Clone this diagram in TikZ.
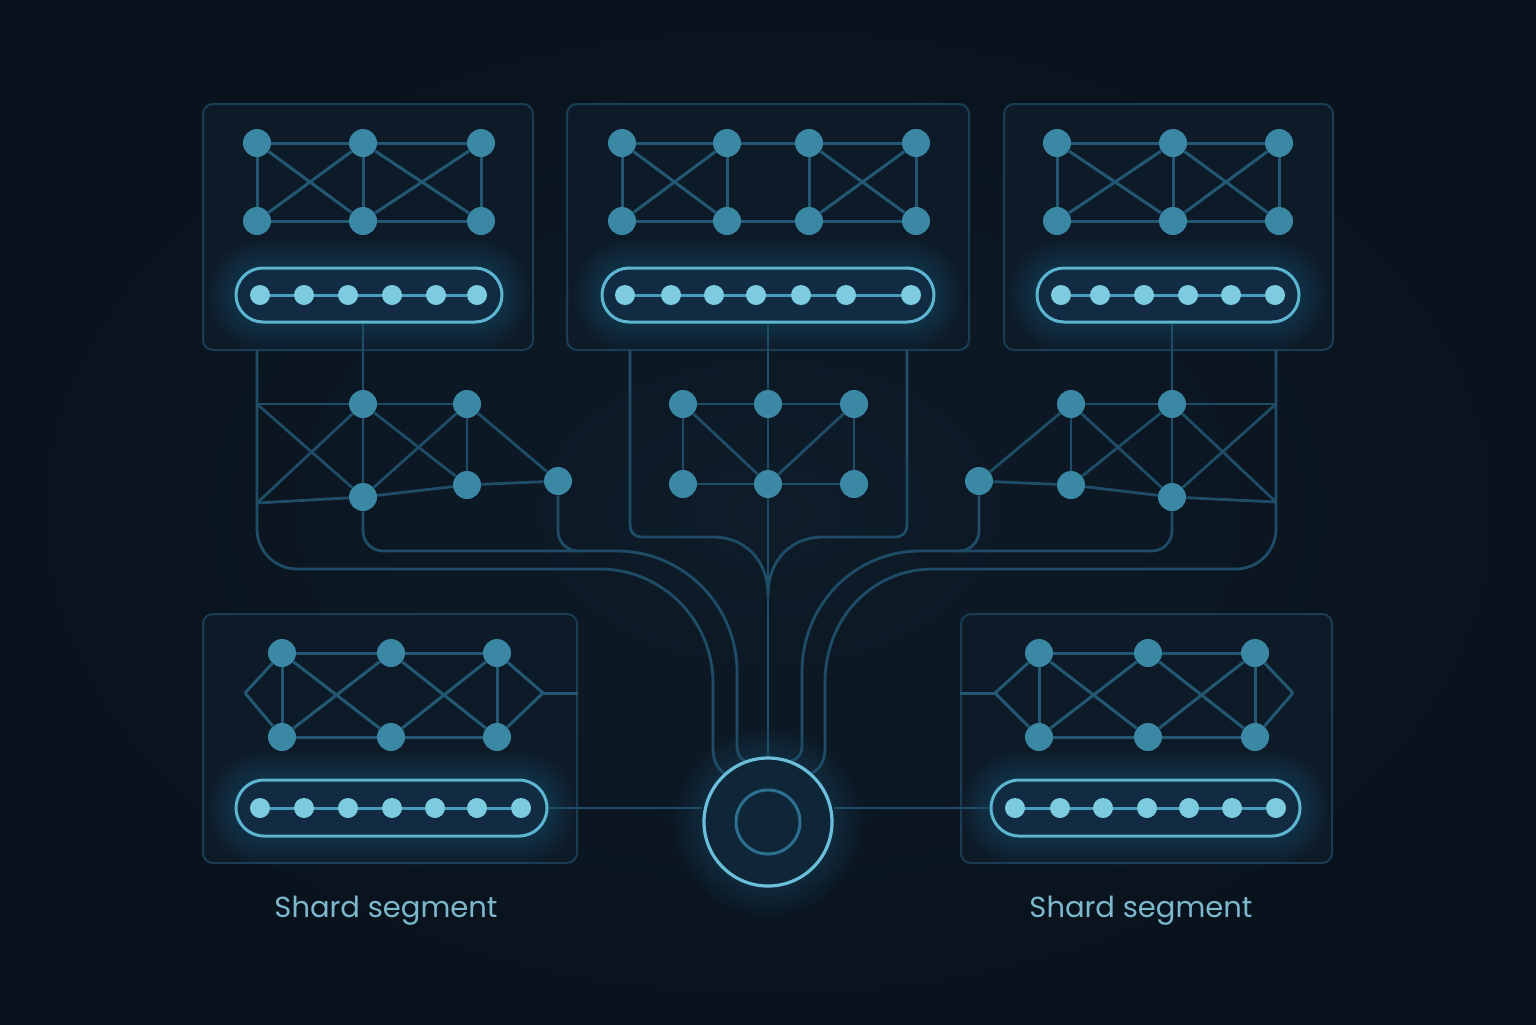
\documentclass[tikz,border=0pt]{standalone}
\usepackage{fontspec}
\setmainfont{Poppins}
\pgfdeclarelayer{back}\pgfdeclarelayer{panels}\pgfdeclarelayer{glow}\pgfdeclarelayer{edges}
\pgfsetlayers{back,panels,glow,edges,main}
\definecolor{bgin}{HTML}{0E1C29}
\definecolor{bgout}{HTML}{09131D}
\definecolor{panelfill}{HTML}{0D1B29}
\definecolor{panelline}{HTML}{1B3D54}
\definecolor{edgecol}{HTML}{235873}
\definecolor{routecol}{HTML}{1F4D68}
\definecolor{nodecol}{HTML}{3B88A5}
\definecolor{pillnode}{HTML}{7DCBDE}
\definecolor{pillline}{HTML}{4A9DBA}
\definecolor{pillborder}{HTML}{5DB6D1}
\definecolor{pillfill}{HTML}{112C42}
\definecolor{glowcol}{HTML}{2B86B0}
\definecolor{ring}{HTML}{6BBFDB}
\definecolor{ringfill}{HTML}{0F2538}
\definecolor{innerring}{HTML}{2D6F8F}
\definecolor{textcol}{HTML}{7DB8CC}
\tikzset{
 panel/.style={draw=panelline, fill=panelfill, line width=1pt, rounded corners=5pt, inner sep=0pt},
 pill/.style={draw=pillborder, fill=pillfill, line width=1.5pt, rounded corners=13.5pt, inner sep=0pt, minimum height=27pt},
 gnode/.style={circle, fill=nodecol, inner sep=0pt, minimum size=14pt},
 pnode/.style={circle, fill=pillnode, inner sep=0pt, minimum size=10pt},
 gedge/.style={draw=edgecol, line width=1.5pt},
 route/.style={draw=routecol, line width=1.4pt},
 pline/.style={draw=pillline, line width=1.5pt},
 lbl/.style={text=textcol, font=\fontsize{14.5}{18}\selectfont, inner sep=0pt},
}
\newcommand\glowbox[4]{%
 \foreach \k in {1,...,7}{%
  \pgfmathsetmacro\rr{13.5+\k*2}%
  \fill[glowcol, opacity=0.035, rounded corners=\rr pt] ({#1-\k*4},{#2-\k*4}) rectangle ({#3+\k*4},{#4+\k*4});
 }}
\begin{document}
\begin{tikzpicture}[x=0.5pt,y=-0.5pt]
\begin{pgfonlayer}{back}
\shade[inner color=bgin, outer color=bgout] (0,0) rectangle (1536,1024);
\end{pgfonlayer}
\useasboundingbox (0,0) rectangle (1536,1024);

% panels
\begin{pgfonlayer}{panels}
\node[panel, minimum width=165pt, minimum height=123pt] (pnTL) at (368,227) {};
\node[panel, minimum width=201pt, minimum height=123pt] (pnTM) at (768,227) {};
\node[panel, minimum width=164.5pt, minimum height=123pt] (pnTR) at (1168.5,227) {};
\node[panel, minimum width=187pt, minimum height=124.5pt] (pnBL) at (390,738.5) {};
\node[panel, minimum width=185.5pt, minimum height=124.5pt] (pnBR) at (1146.5,738.5) {};
\end{pgfonlayer}

% glows and pills
\begin{pgfonlayer}{glow}
\glowbox{236}{268}{502}{322}
\glowbox{602}{268}{934}{322}
\glowbox{1037}{268}{1299}{322}
\glowbox{236}{780}{547}{836}
\glowbox{991}{780}{1300}{836}
\foreach \k in {1,...,6}{\pgfmathsetmacro\rr{32+\k*2.5}\fill[glowcol, opacity=0.035] (768,822) circle[radius=\rr pt];}
\node[pill, minimum width=133pt] (pTL) at (369,295) {};
\node[pill, minimum width=166pt] (pTM) at (768,295) {};
\node[pill, minimum width=131pt] (pTR) at (1168,295) {};
\node[pill, minimum width=155.5pt, minimum height=28pt, rounded corners=14pt] (pBL) at (391.5,808) {};
\node[pill, minimum width=154.5pt, minimum height=28pt, rounded corners=14pt] (pBR) at (1145.5,808) {};
\end{pgfonlayer}

% hub
\node[circle, draw=ring, fill=ringfill, line width=1.6pt, minimum size=64pt, inner sep=0pt] (hub) at (768,822) {};
\node[circle, draw=innerring, line width=1.5pt, minimum size=32pt, inner sep=0pt] (hubin) at (768,822) {};

% pill nodes
\foreach \x [count=\i] in {260,304,348,392,436,477} \node[pnode] (tl\i) at (\x,295) {};
\foreach \x [count=\i] in {625,671,714,756,801,846,911} \node[pnode] (tm\i) at (\x,295) {};
\foreach \x [count=\i] in {1061,1100,1144,1188,1231,1275} \node[pnode] (tr\i) at (\x,295) {};
\foreach \x [count=\i] in {260,304,348,392,435,477,521} \node[pnode] (bl\i) at (\x,808) {};
\foreach \x [count=\i] in {1015,1060,1103,1147,1189,1232,1276} \node[pnode] (br\i) at (\x,808) {};

% top-left graph
\node[gnode] (a1) at (257,143) {}; \node[gnode] (a2) at (363,143) {}; \node[gnode] (a3) at (481,143) {};
\node[gnode] (a4) at (257,221) {}; \node[gnode] (a5) at (363,221) {}; \node[gnode] (a6) at (481,221) {};
% top-middle graph
\node[gnode] (b1) at (622,143) {}; \node[gnode] (b2) at (727,143) {}; \node[gnode] (b3) at (809,143) {}; \node[gnode] (b4) at (916,143) {};
\node[gnode] (b5) at (622,221) {}; \node[gnode] (b6) at (727,221) {}; \node[gnode] (b7) at (809,221) {}; \node[gnode] (b8) at (916,221) {};
% top-right graph
\node[gnode] (c1) at (1057,143) {}; \node[gnode] (c2) at (1173,143) {}; \node[gnode] (c3) at (1279,143) {};
\node[gnode] (c4) at (1057,221) {}; \node[gnode] (c5) at (1173,221) {}; \node[gnode] (c6) at (1279,221) {};
% middle-left
\node[gnode] (m1) at (363,404) {}; \node[gnode] (m2) at (467,404) {}; \node[gnode] (m3) at (363,497) {};
\node[gnode] (m4) at (467,485) {}; \node[gnode] (m5) at (558,481) {};
\coordinate (ml1) at (257,404); \coordinate (ml2) at (257,503);
% middle-center
\node[gnode] (n1) at (683,404) {}; \node[gnode] (n2) at (768,404) {}; \node[gnode] (n3) at (854,404) {};
\node[gnode] (n4) at (683,484) {}; \node[gnode] (n5) at (768,484) {}; \node[gnode] (n6) at (854,484) {};
% middle-right
\node[gnode] (r1) at (1071,404) {}; \node[gnode] (r2) at (1172,404) {}; \node[gnode] (r3) at (979,481) {};
\node[gnode] (r4) at (1071,485) {}; \node[gnode] (r5) at (1172,497) {};
\coordinate (mr1) at (1276,404); \coordinate (mr2) at (1276,502);
% bottom-left
\node[gnode] (d1) at (282,653) {}; \node[gnode] (d2) at (391,653) {}; \node[gnode] (d3) at (497,653) {};
\node[gnode] (d4) at (282,737) {}; \node[gnode] (d5) at (391,737) {}; \node[gnode] (d6) at (497,737) {};
\coordinate (dl) at (245,693); \coordinate (dr) at (543,693);
% bottom-right
\node[gnode] (e1) at (1039,653) {}; \node[gnode] (e2) at (1148,653) {}; \node[gnode] (e3) at (1255,653) {};
\node[gnode] (e4) at (1039,737) {}; \node[gnode] (e5) at (1148,737) {}; \node[gnode] (e6) at (1255,737) {};
\coordinate (el) at (995,693); \coordinate (er) at (1293,693);

% route start points
\coordinate (lo0) at (257,350);
\coordinate (mu0) at (630,350);
\coordinate (mu1) at (907,350);
\coordinate (ro0) at (1276,350);

\begin{pgfonlayer}{edges}
% pill lines
\draw[pline] (tl1) -- (tl6);
\draw[pline] (tm1) -- (tm7);
\draw[pline] (tr1) -- (tr6);
\draw[pline] (bl1) -- (bl7);
\draw[pline] (br1) -- (br7);
% graphs in panels
\foreach \u/\v in {a1/a2,a2/a3,a4/a5,a5/a6,a1/a4,a2/a5,a3/a6,a1/a5,a2/a4,a2/a6,a3/a5,
  b1/b2,b2/b3,b3/b4,b5/b6,b6/b7,b7/b8,b1/b5,b2/b6,b3/b7,b4/b8,b1/b6,b2/b5,b3/b8,b4/b7,
  c1/c2,c2/c3,c4/c5,c5/c6,c1/c4,c2/c5,c3/c6,c1/c5,c2/c4,c2/c6,c3/c5,
  d1/d2,d2/d3,d4/d5,d5/d6,d1/d4,d3/d6,d1/d5,d2/d4,d2/d6,d3/d5,dl/d1,dl/d4,dr/d3,dr/d6,
  e1/e2,e2/e3,e4/e5,e5/e6,e1/e4,e3/e6,e1/e5,e2/e4,e2/e6,e3/e5,el/e1,el/e4,er/e3,er/e6}
  \draw[gedge] (\u) -- (\v);
\draw[gedge] (dr) -- (dr -| pnBL.east);
\draw[gedge] (el) -- (el -| pnBR.west);
% middle graphs
\foreach \u/\v in {ml1/m1,m1/m2,ml1/m3,ml2/m1,ml2/m3,m1/m3,m1/m4,m3/m2,m2/m4,m2/m5,m3/m4,m4/m5,
  n1/n2,n2/n3,n4/n5,n5/n6,n1/n4,n3/n6,n1/n5,n3/n5,
  r1/r2,r2/mr1,r3/r1,r3/r4,r1/r4,r1/r5,r4/r2,r4/r5,r2/r5,r2/mr2,r5/mr1,r5/mr2}
  \draw[route] (\u) -- (\v);
% verticals from pills
\draw[route] (m1 |- pTL.south) -- (m1);
\draw[route] (pTM.south) -- (n2) -- (n5) -- (hub.north);
\draw[route] (r2 |- pTR.south) -- (r2);
% left outer
\draw[route] (lo0) -- (257,529) .. controls (257,551) and (275,569) .. (297,569) -- (600,569)
  .. controls (662,569) and (713,620) .. (713,683) -- (713,748) .. controls (713,760) and (717,768) .. (hub.132);
% left inner
\draw[route] (m3) -- (363,531) .. controls (363,542) and (372,551) .. (383,551) -- (617,551)
  .. controls (683,551) and (737,605) .. (737,672) -- (737,745) .. controls (737,754) and (740,758) .. (hub.111);
\draw[route] (m5) -- (558,531) .. controls (558,542) and (567,551) .. (578,551);
% middle U
\draw[route] (mu0) -- (630,525) .. controls (630,532) and (634,537) .. (642,537) -- (713,537)
  .. controls (745,537) and (768,560) .. (768,595);
\draw[route] (mu1) -- (907,525) .. controls (907,532) and (903,537) .. (895,537) -- (823,537)
  .. controls (791,537) and (768,560) .. (768,595);
% right inner
\draw[route] (r5) -- (1172,531) .. controls (1172,542) and (1163,551) .. (1152,551) -- (920,551)
  .. controls (855,551) and (802,604) .. (802,672) -- (802,745) .. controls (802,754) and (799,758) .. (hub.69);
\draw[route] (r3) -- (979,531) .. controls (979,542) and (970,551) .. (959,551);
% right outer
\draw[route] (ro0) -- (mr1) -- (mr2) -- (1276,529) .. controls (1276,551) and (1258,569) .. (1236,569) -- (933,569)
  .. controls (873,569) and (825,617) .. (825,683) -- (825,748) .. controls (825,760) and (821,768) .. (hub.48);
% horizontal hub links
\draw[route] (pBL.east) -- (pBL.east -| hub.west);
\draw[route] (pBR.west) -- (pBR.west -| hub.east);
\end{pgfonlayer}

% labels
\node[lbl, anchor=base] (lab1) at (386,917) {Shard segment};
\node[lbl, anchor=base] (lab2) at (1141,917) {Shard segment};
\end{tikzpicture}
\end{document}
